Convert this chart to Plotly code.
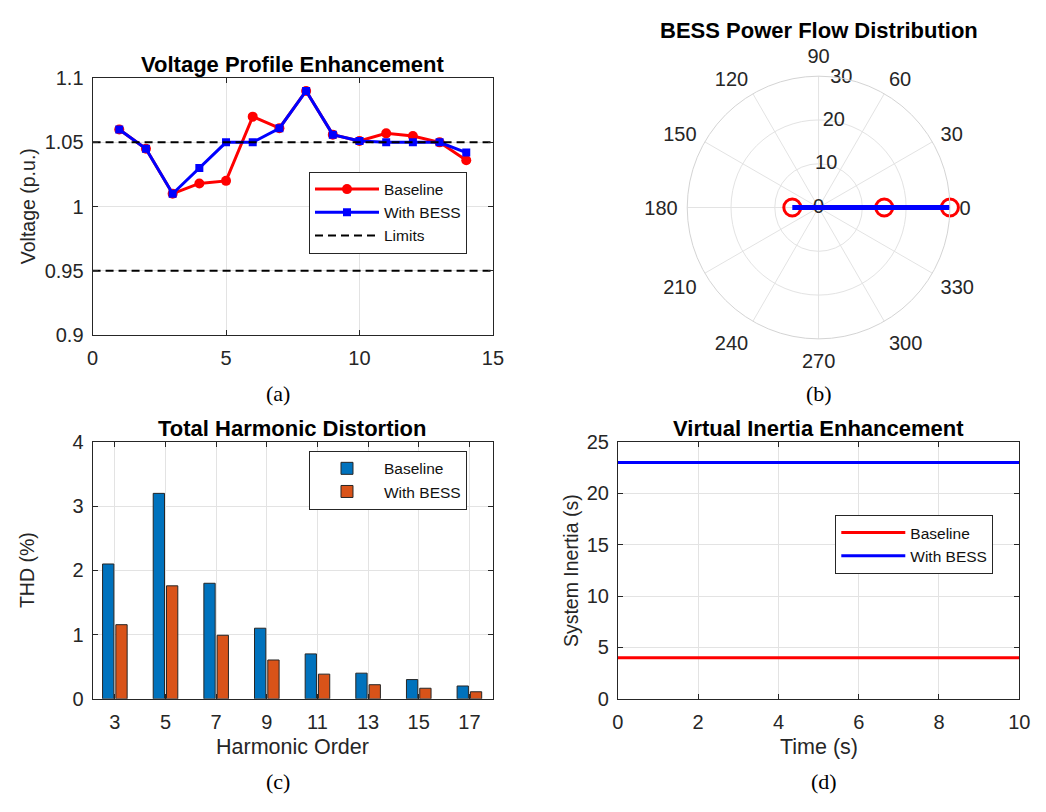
import plotly.graph_objects as go

W, H = 1046, 812

# ---- (a) bus voltage profile ----
bus = [1, 2, 3, 4, 5, 6, 7, 8, 9, 10, 11, 12, 13, 14]
v_base = [1.060, 1.045, 1.010, 1.018, 1.020, 1.070, 1.061, 1.090, 1.056, 1.051, 1.057, 1.055, 1.050, 1.036]
v_bess = [1.060, 1.045, 1.010, 1.030, 1.050, 1.050, 1.061, 1.090, 1.056, 1.051, 1.050, 1.050, 1.050, 1.042]
v_limits = [1.05, 0.95]
bus_span = [0, 15]

# ---- (b) BESS power flow (polar) ----
flow_theta = [180, 0, 0]
flow_r = [6, 15, 30]
polar_angles = [0, 30, 60, 90, 120, 150, 180, 210, 240, 270, 300, 330]
polar_rticks = [0, 10, 20, 30]
rtick_angle = 80

# ---- (c) harmonic distortion ----
harm_order = [3, 5, 7, 9, 11, 13, 15, 17]
thd_base = [2.1, 3.2, 1.8, 1.1, 0.7, 0.4, 0.3, 0.2]
thd_bess = [1.155, 1.76, 0.99, 0.605, 0.385, 0.22, 0.165, 0.11]

# ---- (d) virtual inertia ----
time_s = [0, 10]
inertia_base = [4, 4]
inertia_bess = [23, 23]

SANS = "Liberation Sans, Arial, sans-serif"
SERIF = "Liberation Serif, Times New Roman, serif"
INK = "#262626"
GRID = "#e3e3e3"
RED = "#ff0000"
BLUE = "#0000ff"
C_BLUE = "#0072bd"
C_ORANGE = "#d95319"


def px_x(p):
    return p / W


def px_y(p):
    return 1 - p / H


fig = go.Figure()

# (a) traces
fig.add_trace(go.Scatter(
    x=bus, y=v_base, mode="lines+markers", name="Baseline",
    line=dict(color=RED, width=3), marker=dict(symbol="circle", size=10, color=RED),
    xaxis="x", yaxis="y", legend="legend", legendrank=1))
fig.add_trace(go.Scatter(
    x=bus, y=v_bess, mode="lines+markers", name="With BESS",
    line=dict(color=BLUE, width=3), marker=dict(symbol="square", size=8, color=BLUE),
    xaxis="x", yaxis="y", legend="legend", legendrank=2))
for i, lim in enumerate(v_limits):
    fig.add_trace(go.Scatter(
        x=bus_span, y=[lim, lim], mode="lines", name="Limits",
        line=dict(color="black", width=2, dash="8px,5px"),
        showlegend=(i == 0), legendgroup="limits",
        xaxis="x", yaxis="y", legend="legend", legendrank=3))

# (b) polar: radial labels along the 80 degree spoke, then the data
polar_text = dict(family=SANS, size=20, color=INK)
fig.add_trace(go.Scatterpolar(
    r=polar_rticks, theta=[rtick_angle] * len(polar_rticks), mode="text",
    text=[str(v) for v in polar_rticks], textposition="middle center",
    textfont=polar_text, cliponaxis=False,
    subplot="polar", showlegend=False, hoverinfo="skip"))
fig.add_trace(go.Scatterpolar(
    r=flow_r, theta=flow_theta, mode="markers", name="Baseline",
    marker=dict(symbol="circle-open", size=17, color=RED, line=dict(width=3)),
    subplot="polar", showlegend=False))
fig.add_trace(go.Scatterpolar(
    r=flow_r, theta=flow_theta, mode="lines", name="With BESS",
    line=dict(color=BLUE, width=5),
    subplot="polar", showlegend=False))

# (c) bars
fig.add_trace(go.Bar(
    x=harm_order, y=thd_base, name="Baseline",
    marker=dict(color=C_BLUE, line=dict(color=INK, width=1)),
    xaxis="x2", yaxis="y2", legend="legend2"))
fig.add_trace(go.Bar(
    x=harm_order, y=thd_bess, name="With BESS",
    marker=dict(color=C_ORANGE, line=dict(color=INK, width=1)),
    xaxis="x2", yaxis="y2", legend="legend2"))

# (d) inertia lines
fig.add_trace(go.Scatter(
    x=time_s, y=inertia_base, mode="lines", name="Baseline",
    line=dict(color=RED, width=3), xaxis="x3", yaxis="y3", legend="legend3"))
fig.add_trace(go.Scatter(
    x=time_s, y=inertia_bess, mode="lines", name="With BESS",
    line=dict(color=BLUE, width=3), xaxis="x3", yaxis="y3", legend="legend3"))

tickfont = dict(family=SANS, size=20, color=INK)


def axis(domain, rng, **kw):
    d = dict(domain=domain, range=rng, showline=True, mirror="ticks",
             linecolor=INK, linewidth=1, ticks="inside", ticklen=5,
             tickcolor=INK, showgrid=True, gridcolor=GRID, gridwidth=1,
             zeroline=False, tickfont=tickfont, fixedrange=True)
    d.update(kw)
    return d


left_x = [px_x(88), px_x(495)]
right_x = [px_x(622), px_x(1030)]
top_y = [px_y(333), px_y(69)]
bot_y = [px_y(707), px_y(443)]

fig.update_layout(
    width=W, height=H, margin=dict(l=0, r=0, t=0, b=0),
    paper_bgcolor="white", plot_bgcolor="white",
    showlegend=True,
    bargap=0.475, bargroupgap=0.15, barmode="group",
    xaxis=axis(left_x, [0, 15], anchor="y", tickvals=[0, 5, 10, 15], ticklabelstandoff=5),
    yaxis=axis(top_y, [0.9, 1.1], anchor="x",
               tickvals=[0.9, 0.95, 1.0, 1.05, 1.1],
               ticktext=["0.9", "0.95", "1", "1.05", "1.1"], ticklabelstandoff=4),
    xaxis2=axis(left_x, [2.12, 17.93], anchor="y2", tickvals=harm_order, ticklabelstandoff=5),
    yaxis2=axis(bot_y, [0, 4], anchor="x2", tickvals=[0, 1, 2, 3, 4], ticklabelstandoff=4),
    xaxis3=axis(right_x, [0, 10], anchor="y3", tickvals=[0, 2, 4, 6, 8, 10], ticklabelstandoff=5),
    yaxis3=axis(bot_y, [0, 25], anchor="x3", tickvals=[0, 5, 10, 15, 20, 25], ticklabelstandoff=4),
    polar=dict(
        domain=dict(x=[px_x(691), px_x(961)], y=[px_y(337), px_y(67)]),
        bgcolor="white",
        angularaxis=dict(rotation=0, direction="counterclockwise",
                         tickvals=polar_angles, ticktext=[str(a) for a in polar_angles],
                         showline=True, linecolor="#d4d4d4", linewidth=1, gridcolor=GRID,
                         ticks="outside", ticklen=5, tickcolor="rgba(0,0,0,0)",
                         tickfont=polar_text),
        radialaxis=dict(range=[0, 30], tickvals=polar_rticks, angle=rtick_angle,
                        showticklabels=False, showline=False, ticks="", gridcolor=GRID),
    ),
)

legend_common = dict(bgcolor="white", bordercolor=INK, borderwidth=1,
                     font=dict(family=SANS, size=15.5, color="#111111"),
                     xanchor="left", yanchor="top", tracegroupgap=0,
                     traceorder="normal", itemclick=False, itemdoubleclick=False)
fig.update_layout(
    legend=dict(x=px_x(308), y=px_y(165), itemwidth=64, **legend_common),
    legend2=dict(x=px_x(308), y=px_y(452), itemwidth=64, **legend_common),
    legend3=dict(x=px_x(843), y=px_y(518), itemwidth=64, **legend_common),
)

# titles, axis labels and panel captions
texts = [
    ("Voltage Profile Enhancement", 291, 55, 22, True, SANS, 0),
    ("BESS Power Flow Distribution", 826, 20, 22, True, SANS, 0),
    ("Total Harmonic Distortion", 291, 429, 22, True, SANS, 0),
    ("Virtual Inertia Enhancement", 826, 429, 22, True, SANS, 0),
    ("Voltage (p.u.)", 22, 201, 19.5, False, SANS, -90),
    ("THD (%)", 22, 575, 19.5, False, SANS, -90),
    ("System Inertia (s)", 575, 575, 19.5, False, SANS, -90),
    ("Harmonic Order", 291, 757, 21.5, False, SANS, 0),
    ("Time (s)", 826, 757, 21.5, False, SANS, 0),
    ("(a)", 276, 393, 22, False, SERIF, 0),
    ("(b)", 826, 393, 22, False, SERIF, 0),
    ("(c)", 276, 792, 22, False, SERIF, 0),
    ("(d)", 832, 792, 22, False, SERIF, 0),
]
for txt, x, y, size, bold, fam, ang in texts:
    fig.add_annotation(
        text=f"<b>{txt}</b>" if bold else txt,
        x=px_x(x), y=px_y(y), xref="paper", yref="paper",
        xanchor="center", yanchor="middle", showarrow=False, textangle=ang,
        font=dict(family=fam, size=size, color="black" if bold or fam == SERIF else INK))

fig.write_html(
    "out.html",
    post_script="document.body.style.margin='0';document.body.style.overflow='hidden';",
)
